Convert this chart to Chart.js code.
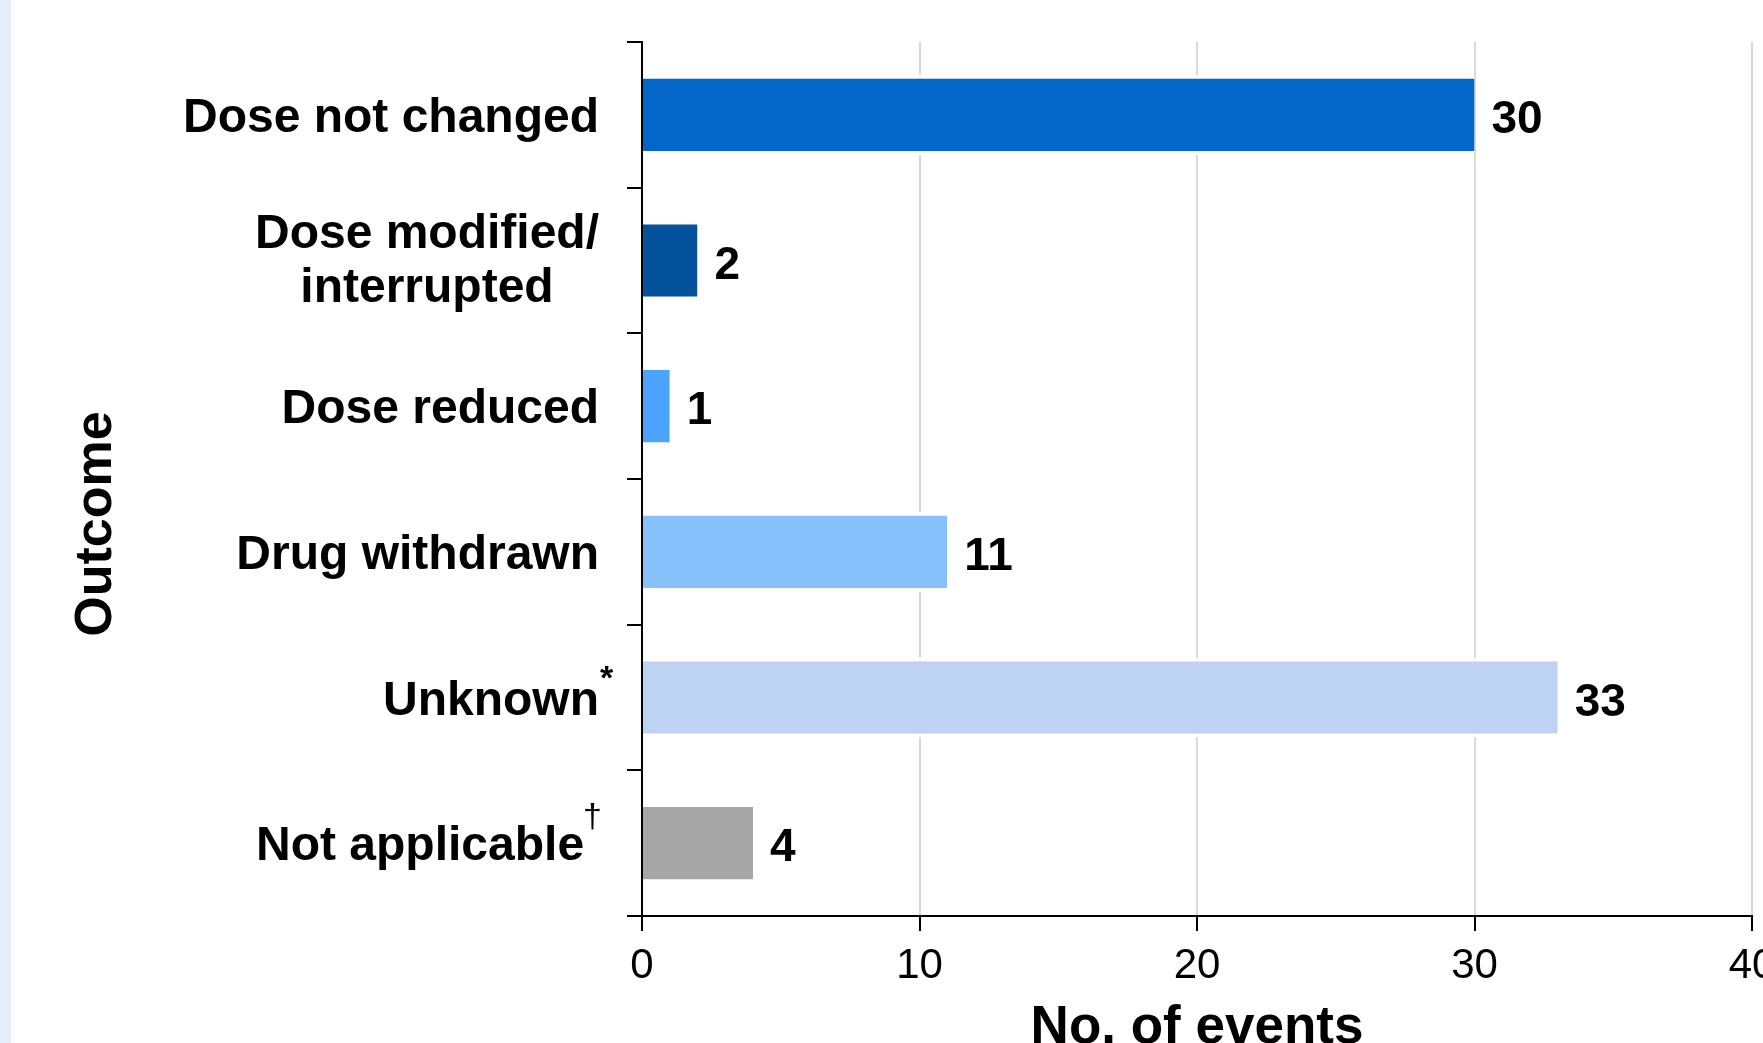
<!DOCTYPE html>
<html>
<head>
<meta charset="utf-8">
<script src="https://cdn.jsdelivr.net/npm/chart.js@4.4.1/dist/chart.umd.min.js"></script>
<style>
    body { margin: 0; background: #ffffff; overflow: hidden; }
    #frame { position: relative; width: 1763px; height: 1043px; overflow: hidden; }
    #chart-box { position: absolute; left: 0; top: 0; width: 1800px; height: 1080px; }
    #strip { position: absolute; left: 0; top: 0; width: 11px; height: 1043px; background: #e6eef9; }
</style>
</head>
<body>
<div id="frame">
    <div id="chart-box"><canvas id="outcome-chart"></canvas></div>
    <div id="strip"></div>
</div>
<script>
// Chart data
const categories = [
    "Dose not changed",
    ["Dose modified/", "interrupted"],
    "Dose reduced",
    "Drug withdrawn",
    "Unknown",
    "Not applicable"
];
const footnoteMarks = ["", "", "", "", "*", "\u2020"];
const eventCounts = [30, 2, 1, 11, 33, 4];
const barColors = ["#0466c8", "#04519c", "#4ca3fd", "#87c2fd", "#bed3f1", "#a6a6a6"];
const xTicks = [0, 10, 20, 30, 40];
const xTitle = "No. of events";
const yTitle = "Outcome";

const FONT = "'Liberation Sans', Arial, sans-serif";
const LABEL_FONT = "bold 48px " + FONT;

// Draws category labels (with footnote marks), the y title and the bar values
const labelPlugin = {
    id: "labelPlugin",
    afterDraw(chart) {
        const ctx = chart.ctx;
        const yScale = chart.scales.y;
        const meta = chart.getDatasetMeta(0);
        ctx.save();
        ctx.fillStyle = "#000";

        // category labels
        ctx.font = LABEL_FONT;
        ctx.textBaseline = "alphabetic";
        const rightEdge = yScale.right - 15 - 28;
        categories.forEach((label, i) => {
            const yc = yScale.getPixelForTick(i);
            const lines = Array.isArray(label) ? label : [label];
            const lineGap = 54;
            const widths = lines.map(l => ctx.measureText(l).width);
            const blockW = Math.max(...widths);
            let mark = footnoteMarks[i];
            let markW = 0;
            if (mark === "\u2020") {
                ctx.font = "34px " + FONT;
                markW = ctx.measureText(mark).width - 4;
                ctx.font = LABEL_FONT;
            }
            const blockCenter = rightEdge - markW - blockW / 2;
            const firstBase = yc + 17 - (lines.length - 1) * lineGap / 2 - (lines.length > 1 ? 3 : 0);
            ctx.textAlign = "center";
            lines.forEach((l, k) => {
                ctx.fillText(l, blockCenter, firstBase + k * lineGap);
            });
            if (mark) {
                const lastW = widths[widths.length - 1];
                const mx = blockCenter + lastW / 2;
                ctx.textAlign = "left";
                if (mark === "*") {
                    ctx.font = "bold 34px " + FONT;
                    ctx.fillText(mark, mx + 1, firstBase - 26);
                } else {
                    ctx.font = "34px " + FONT;
                    ctx.fillText(mark, mx - 1, firstBase - 33);
                }
                ctx.font = LABEL_FONT;
            }
        });

        // bar values
        ctx.font = "bold 46px " + FONT;
        ctx.textAlign = "left";
        ctx.textBaseline = "alphabetic";
        meta.data.forEach((bar, i) => {
            ctx.fillText(String(eventCounts[i]), bar.x + 17, bar.y + 18);
        });

        // y axis title
        ctx.font = "bold 52px " + FONT;
        ctx.translate(97, (chart.chartArea.top + chart.chartArea.bottom) / 2 + 45);
        ctx.rotate(-Math.PI / 2);
        ctx.textAlign = "center";
        ctx.textBaseline = "middle";
        ctx.fillText(yTitle, 0, 0);
        ctx.restore();
    }
};

const ctx = document.getElementById("outcome-chart").getContext("2d");
new Chart(ctx, {
    type: "bar",
    data: {
        labels: categories,
        datasets: [{
            data: eventCounts,
            backgroundColor: barColors,
            borderColor: "#ffffff",
            borderWidth: { top: 4, bottom: 4, left: 0, right: 0 },
            borderSkipped: "start",
            barPercentage: 0.55,
            categoryPercentage: 1
        }]
    },
    options: {
        indexAxis: "y",
        responsive: true,
        maintainAspectRatio: false,
        animation: false,
        events: [],
        layout: { padding: { top: 42, right: 48, left: 0, bottom: 0 } },
        plugins: {
            legend: { display: false },
            tooltip: { enabled: false }
        },
        scales: {
            x: {
                min: xTicks[0],
                max: xTicks[xTicks.length - 1],
                afterBuildTicks: axis => { axis.ticks = xTicks.map(v => ({ value: v })); },
                afterFit: axis => { axis.height = 1080 - 916; },
                grid: { color: "#d9d9d9", lineWidth: 2, tickColor: "#000", tickLength: 15 },
                border: { color: "#000", width: 2 },
                ticks: { color: "#000", padding: 10, font: { family: FONT, size: 42 } },
                title: {
                    display: true,
                    text: xTitle,
                    color: "#000",
                    font: { family: FONT, size: 53, weight: "bold", lineHeight: 1 },
                    padding: { top: 0, bottom: 25 }
                }
            },
            y: {
                afterFit: axis => { axis.width = 642; },
                grid: { drawOnChartArea: false, color: "#000", lineWidth: 2, tickLength: 15 },
                border: { color: "#000", width: 2 },
                ticks: { display: false }
            }
        }
    },
    plugins: [labelPlugin]
});
</script>
</body>
</html>
